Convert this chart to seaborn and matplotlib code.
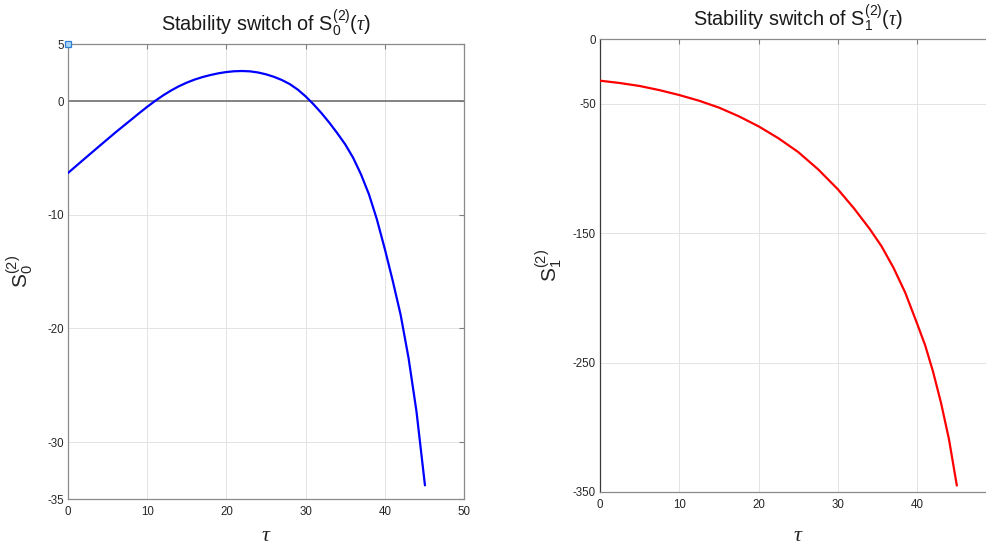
import matplotlib
matplotlib.use("Agg")
import matplotlib.pyplot as plt
import seaborn as sns
import pandas as pd

# ---- data ----
tau0 = [0, 2, 4, 6, 8, 9, 10, 11, 12, 13, 14, 15, 16, 17, 18, 19, 20, 21, 22, 23, 24,
        25, 26, 27, 28, 29, 30, 31, 32, 33, 34, 35, 36, 37, 38, 39, 40, 41, 42, 43,
        44, 45.07]
s0 = [-6.32, -5.12, -3.93, -2.75, -1.62, -1.05, -0.50, 0.02, 0.50, 0.93, 1.31, 1.63,
      1.90, 2.12, 2.30, 2.45, 2.56, 2.63, 2.65, 2.62, 2.52, 2.36, 2.14, 1.86, 1.50,
      1.02, 0.42, -0.28, -1.05, -1.90, -2.82, -3.80, -4.98, -6.45, -8.20, -10.40,
      -13.00, -15.80, -18.80, -22.60, -27.30, -33.80]

tau1 = [0, 2.5, 5, 7.5, 10, 12.5, 15, 17.5, 20, 22.5, 25, 27.5, 30, 32, 34, 35.5,
        37, 38.5, 40, 41, 42, 43, 44, 45]
s1 = [-32.0, -33.8, -36.1, -39.3, -43.1, -47.5, -52.8, -59.5, -67.3, -76.5, -87.2,
      -100.5, -116.0, -130.5, -146.5, -160.0, -176.5, -196.0, -220.0, -236.5,
      -257.0, -281.0, -309.0, -345.0]

xticks0 = [0, 10, 20, 30, 40, 50]
xticks1 = [0, 10, 20, 30, 40]
yticks0 = [5, 0, -10, -20, -30, -35]
yticks1 = [0, -50, -150, -250, -350]

titles = [r"Stability switch of $\mathrm{S}_0^{(2)}(\tau)$",
          r"Stability switch of $\mathrm{S}_1^{(2)}(\tau)$"]
ylabels = [r"$\mathrm{S}_0^{(2)}$", r"$\mathrm{S}_1^{(2)}$"]
xlabel = r"$\tau$"

# ---- style ----
sns.set_style("white")
plt.rcParams["font.family"] = ["Liberation Sans", "DejaVu Sans"]
plt.rcParams["mathtext.fontset"] = "custom"
plt.rcParams["mathtext.rm"] = "Liberation Sans"
plt.rcParams["mathtext.it"] = "Liberation Serif:italic"
plt.rcParams["mathtext.bf"] = "Liberation Sans:bold"
plt.rcParams["axes.unicode_minus"] = False

fig = plt.figure(figsize=(9.86, 5.45), dpi=100)
W, H = 986, 545
ax0 = fig.add_axes([68 / W, (H - 499) / H, 396 / W, (499 - 44.3) / H])
ax1 = fig.add_axes([600 / W, (H - 492) / H, 396.5 / W, (492 - 39.3) / H])

df0 = pd.DataFrame({"tau": tau0, "S": s0})
df1 = pd.DataFrame({"tau": tau1, "S": s1})

ax0.axhline(0, color="#7a7a7a", lw=1.3, zorder=1)
sns.lineplot(data=df0, x="tau", y="S", ax=ax0, color=(0, 0, 1), lw=1.6, zorder=3)
sns.lineplot(data=df1, x="tau", y="S", ax=ax1, color=(1, 0, 0), lw=1.6, zorder=3)
ax0.plot([0], [5], marker="s", ms=4.5, mfc="#a9d4f5", mec="#2f7fd6", mew=0.9,
         clip_on=False, zorder=5)

ax0.set_xlim(0, 50)
ax0.set_ylim(-35, 5)
ax0.set_xticks(xticks0)
ax0.set_yticks(yticks0)
ax1.set_xlim(0, 50)
ax1.set_ylim(-350, 0)
ax1.set_xticks(xticks1)
ax1.set_yticks(yticks1)

for i, (ax, yl) in enumerate(zip([ax0, ax1], ylabels)):
    ax.grid(True, color="#e3e3e3", lw=0.7)
    ax.set_axisbelow(True)
    ax.tick_params(direction="in", length=3.5, width=0.8, colors="#7f7f7f",
                   labelcolor="#262626", labelsize=8.3, top=True, right=True)
    ax.tick_params(axis="x", pad=5)
    ax.tick_params(axis="y", pad=3)
    for sp in ax.spines.values():
        sp.set_color("#8a8a8a")
        sp.set_linewidth(0.9)
    ax.set_title(titles[i], fontsize=14.3, color="#1a1a1a", pad=10)
    ax.set_xlabel(xlabel, fontsize=16, color="#262626", labelpad=5 if i == 0 else 10)
    ax.set_ylabel(yl, fontsize=15, color="#262626", labelpad=9 if i == 0 else 6)

ax1.spines["left"].set_color("#3a3a3a")

fig.savefig("out.png", dpi=100)
